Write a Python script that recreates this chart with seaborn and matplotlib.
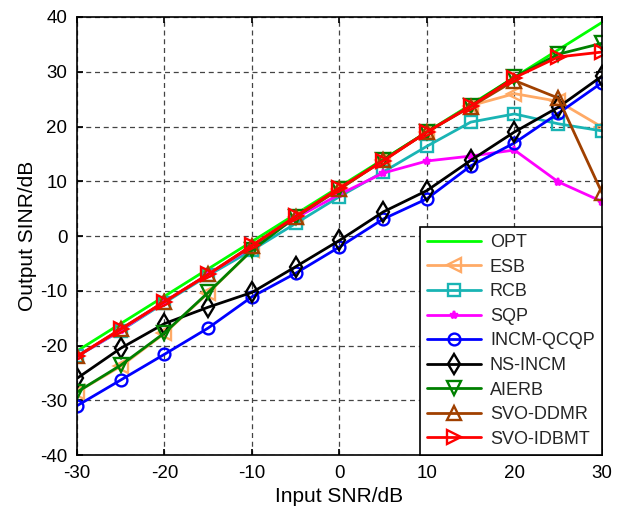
import numpy as np
import pandas as pd
import matplotlib
matplotlib.use("Agg")
import matplotlib.pyplot as plt
import seaborn as sns

snr_in = [-30, -25, -20, -15, -10, -5, 0, 5, 10, 15, 20, 25, 30]

opt = [-21, -16, -11, -6, -1, 4, 9, 14, 19, 24, 29, 34, 39]
esb = [-28.5, -23.8, -17.8, -10.4, -2.6, 3.5, 8.5, 13.8, 19, 23.8, 26, 24.6, 19.9]
rcb = [-22, -17.3, -12.2, -7.2, -2.6, 2.3, 7.2, 11.7, 16.4, 20.8, 22.3, 20.5, 19.2]
sqp = [-22, -17.2, -12, -7, -2, 3.3, 7.6, 11.5, 13.7, 14.6, 15.7, 9.9, 6.3]
incm_qcqp = [-31, -26.3, -21.6, -16.8, -11.1, -6.8, -2, 3.1, 6.8, 12.8, 17, 22.4, 28]
ns_incm = [-26, -20.5, -16, -13, -10.3, -5.6, -0.8, 4.4, 8.3, 13.8, 19, 23.5, 29.2]
aierb = [-28.5, -23.6, -17.7, -10.3, -2.6, 3.5, 8.6, 13.9, 19, 23.8, 29, 33.2, 35.2]
svo_ddmr = [-22, -17, -12, -7, -1.8, 3.5, 8.6, 13.8, 19, 23.6, 28.4, 25.2, 7.9]
svo_idbmt = [-22, -17, -12, -7, -1.7, 3.6, 8.8, 13.7, 19, 23.7, 28.9, 32.7, 33.6]

series = [
    ("OPT", opt, "#00ff00", None),
    ("ESB", esb, "#ffaa66", "<"),
    ("RCB", rcb, "#19b4b4", "s"),
    ("SQP", sqp, "#ff00ff", "*"),
    ("INCM-QCQP", incm_qcqp, "#0000ff", "o"),
    ("NS-INCM", ns_incm, "#000000", "d"),
    ("AIERB", aierb, "#008000", "v"),
    ("SVO-DDMR", svo_ddmr, "#a04000", "^"),
    ("SVO-IDBMT", svo_idbmt, "#ff0000", ">"),
]
marker_sizes = {"<": 10, "s": 8, "*": 6, "o": 8.5, "d": 10, "v": 10, "^": 10, ">": 10}

sns.set_theme(style="white")
plt.rcParams['font.family'] = ['Liberation Sans', 'DejaVu Sans']
plt.rcParams['axes.unicode_minus'] = False

fig = plt.figure(figsize=(6.19, 5.12), dpi=100)
ax = fig.add_axes([0.1244, 0.1113, 0.848, 0.8555])

for name, vals, color, mk in series:
    df = pd.DataFrame({"x": snr_in, "y": vals})
    kw = dict(color=color, linewidth=2, label=name, ax=ax)
    if mk is not None:
        kw.update(marker=mk, markersize=marker_sizes[mk],
                  markerfacecolor="none" if mk != "*" else color,
                  markeredgecolor=color, markeredgewidth=1.7)
    sns.lineplot(data=df, x="x", y="y", **kw)

ax.set_xlim(-30, 30)
ax.set_ylim(-40, 40)
ax.set_xticks(np.arange(-30, 31, 10))
ax.set_yticks(np.arange(-40, 41, 10))
ax.grid(True, color="#444444", linestyle=(0, (4, 3)), linewidth=0.9)
ax.tick_params(direction="in", length=4, labelsize=13.5, colors="black", pad=7,
               top=True, right=True, bottom=True, left=True)
for sp in ax.spines.values():
    sp.set_color("black")
    sp.set_linewidth(1.2)
ax.set_xlabel("Input SNR/dB", fontsize=15, color="black", labelpad=4)
ax.set_ylabel("Output SINR/dB", fontsize=15, color="black", labelpad=2)

leg = ax.legend(loc="lower right", fontsize=13, frameon=True, fancybox=False,
                edgecolor="black", framealpha=1, borderaxespad=0,
                handlelength=3.0, labelspacing=0.42, borderpad=0.4,
                handletextpad=0.5)
leg.get_frame().set_linewidth(1.2)

fig.savefig("out.png", dpi=100)
